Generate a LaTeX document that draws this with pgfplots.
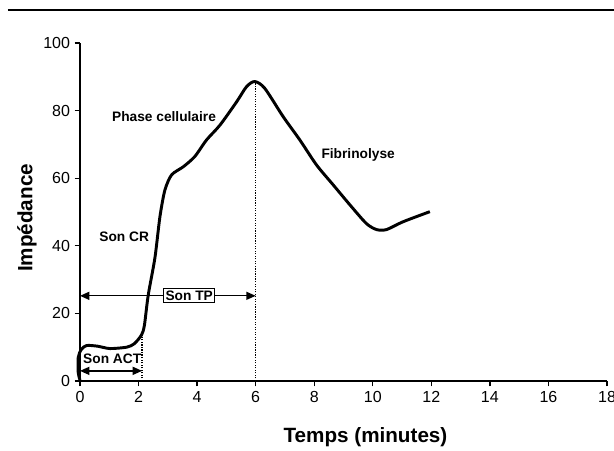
\documentclass[border=0pt]{standalone}
\usepackage{fontspec}
\setmainfont{Liberation Sans}
\usepackage{pgfplots}
\pgfplotsset{compat=1.18}
\usetikzlibrary{arrows.meta}

\begin{document}
\begin{tikzpicture}
\begin{axis}[
    width=395.25pt,
    height=253.5pt,
    scale only axis,
    xmin=0, xmax=18,
    ymin=0, ymax=100,
    axis lines=left,
    axis line style={-, line width=1.3pt},
    xtick={0,2,...,18},
    ytick={0,20,...,100},
    tick align=outside,
    major tick length=4pt,
    tick style={black, line width=1pt},
    xticklabel style={font=\fontsize{12}{14}\selectfont},
    yticklabel style={font=\fontsize{12}{14}\selectfont},
    /pgf/number format/assume math mode=true,
    xlabel={Temps (minutes)},
    ylabel={Impédance},
    xlabel style={font=\bfseries\fontsize{15.5}{18}\selectfont,
        at={(rel axis cs:0.5417,-0.1657)}, anchor=center},
    ylabel style={font=\bfseries\fontsize{15.5}{18}\selectfont,
        at={(rel axis cs:-0.1006,0.4825)}, anchor=center},
    clip=false,
]
% impedance curve
\addplot[black, line width=2.2pt, smooth, tension=0.45] coordinates {
    (0,0.3) (-0.06,2.4) (-0.06,7.0) (0.05,9.4) (0.23,10.5) (0.6,10.3)
    (1.02,9.6) (1.59,10.0) (1.85,11.0) (2.1,13.6) (2.2,16.5) (2.33,25.4)
    (2.56,36.5) (2.73,48.6) (2.9,56.5) (3.13,61.0) (3.53,63.4) (3.92,66.4)
    (4.32,71.3) (4.78,75.7) (5.35,82.6) (5.69,87.1) (5.97,88.6) (6.31,86.6)
    (6.94,78.2) (7.51,71.3) (8.08,63.9) (8.65,58.0) (9.22,52.1) (9.78,46.6)
    (10.13,44.8) (10.47,44.8) (11.03,47.1) (11.95,50.1)
};
% guide lines
\draw[densely dotted, line width=0.9pt] (axis cs:2.12,0) -- (axis cs:2.12,14.5);
\draw[densely dotted, line width=0.9pt] (axis cs:6,0) -- (axis cs:6,88.6);
\draw[line width=1pt, {Triangle[length=7pt,width=6pt]}-{Triangle[length=7pt,width=6pt]}]
    (axis cs:0,25.2) -- (axis cs:6,25.2);
\draw[line width=1pt, {Triangle[length=7pt,width=6pt]}-{Triangle[length=7pt,width=6pt]}]
    (axis cs:0,3.0) -- (axis cs:2.12,3.0);
% labels
\node[draw, fill=white, line width=0.8pt, inner sep=1.5pt, font=\bfseries\fontsize{10.3}{12}\selectfont]
    at (axis cs:3.73,25.2) {Son TP};
\node[font=\bfseries\fontsize{10.3}{12}\selectfont] at (axis cs:1.1,6.6) {Son ACT};
\node[font=\bfseries\fontsize{10.3}{12}\selectfont] at (axis cs:1.51,42.7) {Son CR};
\node[font=\bfseries\fontsize{10.3}{12}\selectfont] at (axis cs:2.87,78.1) {Phase cellulaire};
\node[font=\bfseries\fontsize{10.3}{12}\selectfont] at (axis cs:9.5,66.9) {Fibrinolyse};
\end{axis}
\draw[line width=1.5pt] (-54pt,278.25pt) -- (400.5pt,278.25pt);
\pgfresetboundingbox
\path[use as bounding box] (-60pt,-51.75pt) rectangle (400.5pt,285.75pt);
\end{tikzpicture}
\end{document}
